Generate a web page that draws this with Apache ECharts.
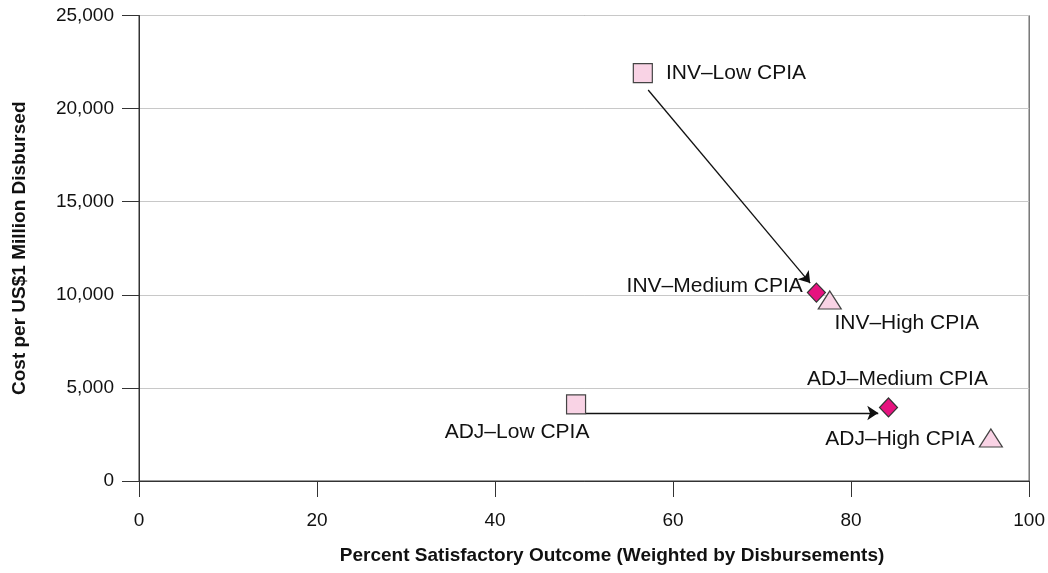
<!DOCTYPE html>
<html>
<head>
<meta charset="utf-8">
<script src="https://cdn.jsdelivr.net/npm/echarts@6/dist/echarts.min.js"></script>
<style>
html,body{margin:0;padding:0;background:#fff;}
#chart{width:1048px;height:573px;}
</style>
</head>
<body>
<div id="chart"></div>
<script>
const FONT = "'Liberation Sans Narrow','Arial Narrow','Liberation Sans',sans-serif";
const xTicks = [0, 20, 40, 60, 80, 100];
const yTicks = [0, 5000, 10000, 15000, 20000, 25000];
const lowPoints = [
  { name: 'INV\u2013Low CPIA', x: 56.6, y: 21900 },
  { name: 'ADJ\u2013Low CPIA', x: 49.1, y: 4110 }
];
const mediumPoints = [
  { name: 'INV\u2013Medium CPIA', x: 76.1, y: 10120 },
  { name: 'ADJ\u2013Medium CPIA', x: 84.2, y: 3950 }
];
const highPoints = [
  { name: 'INV\u2013High CPIA', x: 77.6, y: 9720 },
  { name: 'ADJ\u2013High CPIA', x: 95.7, y: 2310 }
];
const arrows = [
  [[57.2, 21000], [75.4, 10630]],
  [[50.2, 3650], [83.05, 3650]]
];

const labelStyles = {
  'INV\u2013Low CPIA': { position: 'right', distance: 13 },
  'ADJ\u2013Low CPIA': { position: 'bottom', offset: [-59, 0], distance: 7 },
  'INV\u2013Medium CPIA': { position: 'left', offset: [0, -6], distance: 4 },
  'ADJ\u2013Medium CPIA': { position: 'top', offset: [9, 0], distance: 8 },
  'INV\u2013High CPIA': { position: 'bottom', offset: [77, -1], distance: 4 },
  'ADJ\u2013High CPIA': { position: 'left', offset: [0, 1], distance: 4 }
};

function toData(arr) {
  return arr.map(p => {
    const ls = labelStyles[p.name] || {};
    return {
      name: p.name,
      value: [p.x, p.y],
      label: Object.assign({ show: true, formatter: p.name }, ls)
    };
  });
}

const labelBase = { color: '#111', fontSize: 21, fontFamily: FONT };

const chart = echarts.init(document.getElementById('chart'), null, { renderer: 'canvas' });
chart.setOption({
  animation: false,
  backgroundColor: '#fff',
  grid: { left: 139, right: 18, top: 15.5, bottom: 92, show: true, borderColor: '#333', borderWidth: 1, backgroundColor: 'transparent' },
  xAxis: {
    type: 'value', min: xTicks[0], max: xTicks[xTicks.length - 1], interval: 20,
    name: 'Percent Satisfactory Outcome (Weighted by Disbursements)',
    nameLocation: 'middle', nameGap: 65,
    nameTextStyle: { fontFamily: FONT, fontWeight: 'bold', fontSize: 19, color: '#111', padding: [0, 0, 0, 56] },
    axisLine: { show: true, lineStyle: { color: '#333', width: 1 } },
    axisTick: { show: true, length: 16, lineStyle: { color: '#333' } },
    axisLabel: { fontFamily: FONT, fontSize: 19, color: '#111', margin: 30 },
    splitLine: { show: false }
  },
  yAxis: {
    type: 'value', min: yTicks[0], max: yTicks[yTicks.length - 1], interval: 5000,
    name: 'Cost per US$1 Million Disbursed',
    nameLocation: 'middle', nameGap: 110,
    nameTextStyle: { fontFamily: FONT, fontWeight: 'bold', fontSize: 19, color: '#111' },
    axisLine: { show: true, lineStyle: { color: '#333', width: 1 } },
    axisTick: { show: true, length: 17, lineStyle: { color: '#333' } },
    axisLabel: {
      fontFamily: FONT, fontSize: 19, color: '#111', margin: 25,
      formatter: v => v.toLocaleString('en-US')
    },
    splitLine: { show: true, lineStyle: { color: '#c8c8c8', width: 1 } }
  },
  series: [
    {
      type: 'lines', coordinateSystem: 'cartesian2d', z: 1,
      symbol: ['none', 'arrow'], symbolSize: 11,
      lineStyle: { color: '#111', width: 1.3, opacity: 1 },
      data: arrows.map(c => ({ coords: c }))
    },
    {
      type: 'scatter', name: 'Low', symbol: 'rect', symbolSize: 19, z: 3,
      itemStyle: { color: '#f9d3e5', borderColor: '#444', borderWidth: 1.2, opacity: 1 },
      label: labelBase,
      data: toData(lowPoints)
    },
    {
      type: 'scatter', name: 'Medium', symbol: 'diamond', symbolSize: [18, 19], z: 4,
      itemStyle: { color: '#e6137f', borderColor: '#333', borderWidth: 1.2, opacity: 1 },
      label: labelBase,
      data: toData(mediumPoints)
    },
    {
      type: 'scatter', name: 'High', symbol: 'triangle', symbolSize: [23, 18], z: 5,
      itemStyle: { color: '#f9d3e5', borderColor: '#444', borderWidth: 1.2, opacity: 1 },
      label: labelBase,
      data: toData(highPoints)
    }
  ]
});
</script>
</body>
</html>
